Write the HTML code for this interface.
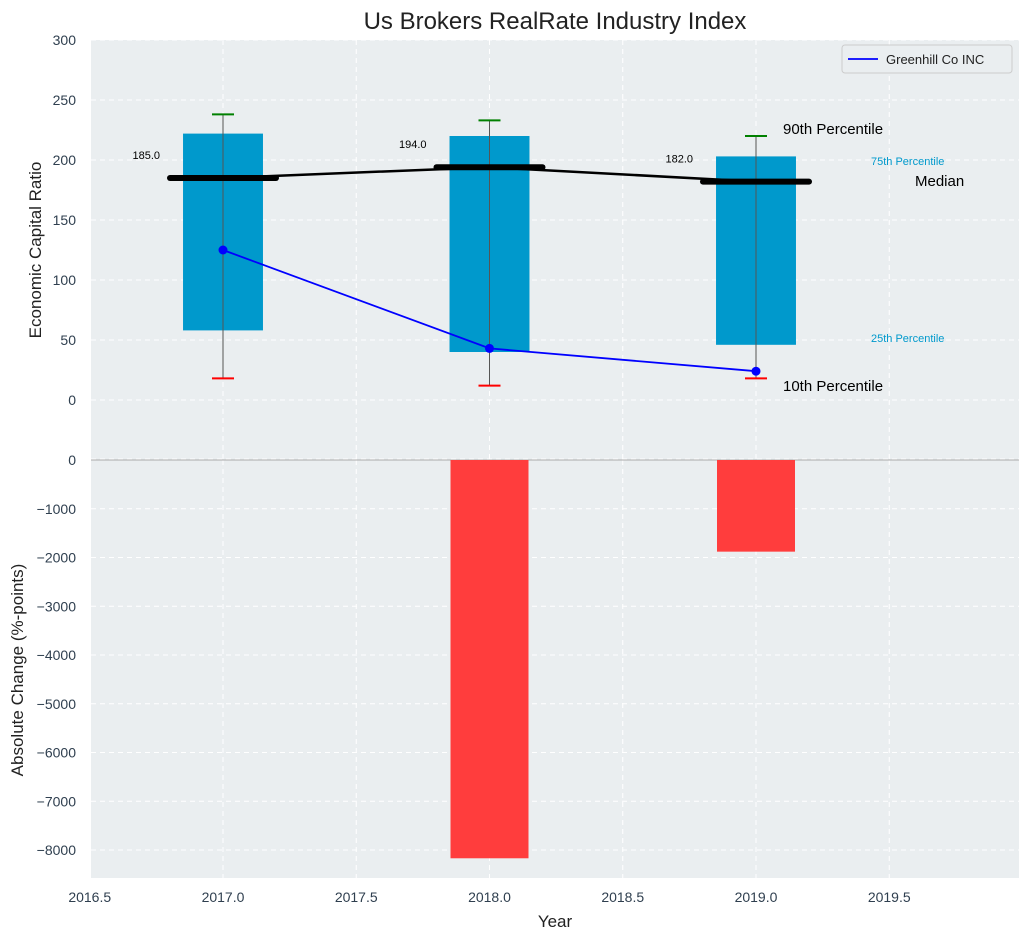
<!DOCTYPE html>
<html><head><meta charset="utf-8"><style>
body{margin:0;background:#fff;font-family:"Liberation Sans",sans-serif}
svg text{font-family:"Liberation Sans",sans-serif}
</style></head><body>
<svg id="c" width="1029" height="940" xmlns="http://www.w3.org/2000/svg"></svg>
<script>
const years=[2017,2018,2019];
const p10=[18,12,18];
const p25=[58,40,46];
const median=[185,194,182];
const p75=[222,220,203];
const p90=[238,233,220];
const company=[125,43,24];
const absChange=[0,-8170,-1880];
const xTicks=[2016.5,2017,2017.5,2018,2018.5,2019,2019.5];
const topTicks=[0,50,100,150,200,250,300];
const botTicks=[0,-1000,-2000,-3000,-4000,-5000,-6000,-7000,-8000];

const NS="http://www.w3.org/2000/svg";
const svg=document.getElementById('c');
const L=91,R=1019,T1=40,B1=460,T2=460,B2=878;
const x=v=>223+(v-2017)*266.5;
const yT=v=>400-v*1.2;
const yB=v=>460+(-v)*0.04875;
function el(t,a,name,parent){const e=document.createElementNS(NS,t);for(const k in a)e.setAttribute(k,a[k]);


(parent||svg).appendChild(e);return e;}
function txt(s,a,name){const e=el('text',a,name);e.textContent=s;return e;}

el('rect',{x:L,y:T1,width:R-L,height:B1-T1,fill:'#eaeef0'},'top-plot-area');
el('rect',{x:L,y:T2,width:R-L,height:B2-T2,fill:'#eaeef0'},'bottom-plot-area');
xTicks.forEach(v=>{
  el('line',{x1:x(v),x2:x(v),y1:T1,y2:B1,stroke:'#fff','stroke-dasharray':'5,4'},'top-x-grid');
  el('line',{x1:x(v),x2:x(v),y1:T2,y2:B2,stroke:'#fff','stroke-dasharray':'5,4'},'bottom-x-grid');
  txt(v.toFixed(1),{x:x(v),y:902,'text-anchor':'middle','font-size':14,fill:'#2f3f4f'},'x-tick-label');
});
topTicks.forEach(v=>{
  el('line',{x1:L,x2:R,y1:yT(v),y2:yT(v),stroke:'#fff','stroke-dasharray':'5,4'},'top-y-grid');
  txt(v,{x:76,y:yT(v)+5,'text-anchor':'end','font-size':14,fill:'#2f3f4f'},'top-y-tick-label');
});
el('line',{x1:L,x2:R,y1:yT(-50)-1,y2:yT(-50)-1,stroke:'#fff','stroke-dasharray':'5,4'},'top-y-grid');
botTicks.forEach(v=>{
  el('line',{x1:L,x2:R,y1:yB(v),y2:yB(v),stroke:'#fff','stroke-dasharray':'5,4'},'bottom-y-grid');
  txt(v===0?'0':'\u2212'+(-v),{x:76,y:yB(v)+5,'text-anchor':'end','font-size':14,fill:'#2f3f4f'},'bottom-y-tick-label');
});
el('line',{x1:L,x2:R,y1:460,y2:460,stroke:'#aaa','stroke-width':1},'zero-line');

const bw=0.3*266.5;
years.forEach((yr,i)=>{
  const cx=x(yr);
  el('rect',{x:cx-bw/2,y:yT(p75[i]),width:bw,height:yT(p25[i])-yT(p75[i]),fill:'#0099cc'},'iqr-bar');
  el('line',{x1:cx,x2:cx,y1:yT(p90[i]),y2:yT(p10[i]),stroke:'#555','stroke-width':1},'whisker');
  el('line',{x1:cx-11,x2:cx+11,y1:yT(p90[i]),y2:yT(p90[i]),stroke:'green','stroke-width':2},'p90-cap');
  el('line',{x1:cx-11,x2:cx+11,y1:yT(p10[i]),y2:yT(p10[i]),stroke:'red','stroke-width':2},'p10-cap');
  el('line',{x1:cx-53,x2:cx+53,y1:yT(median[i]),y2:yT(median[i]),stroke:'#000','stroke-width':6,'stroke-linecap':'round'},'median-bar');
  txt(median[i].toFixed(1),{x:cx-63,y:yT(median[i])-19,'text-anchor':'end','font-size':11,fill:'#000'},'median-label');
  if(absChange[i]!==0) el('rect',{x:cx-39,y:yB(0),width:78,height:yB(absChange[i])-yB(0),fill:'#ff3d3d'},'abs-change-bar');
});
el('polyline',{points:years.map((yr,i)=>x(yr)+','+yT(median[i])).join(' '),fill:'none',stroke:'#000','stroke-width':2.5},'median-line');
el('polyline',{points:years.map((yr,i)=>x(yr)+','+yT(company[i])).join(' '),fill:'none',stroke:'#0000ff','stroke-width':1.8},'company-line');
years.forEach((yr,i)=>el('circle',{cx:x(yr),cy:yT(company[i]),r:4.5,fill:'#0000ff'},'company-point'));

txt('90th Percentile',{x:783,y:134,'font-size':15,fill:'#000'},'p90-annotation');
txt('75th Percentile',{x:871,y:165,'font-size':11,fill:'#0099cc'},'p75-annotation');
txt('Median',{x:915,y:186,'font-size':15,fill:'#000'},'median-annotation');
txt('25th Percentile',{x:871,y:342,'font-size':11,fill:'#0099cc'},'p25-annotation');
txt('10th Percentile',{x:783,y:391,'font-size':15,fill:'#000'},'p10-annotation');

const lg=el('g',{},'legend');
el('rect',{x:842,y:45,width:170,height:28,fill:'#eaeef0',stroke:'#ccc',rx:3},'legend-box',lg);
el('line',{x1:848,x2:878,y1:59,y2:59,stroke:'#0000ff','stroke-width':1.8},'legend-line',lg);
const lt=el('text',{x:886,y:64,'font-size':13,fill:'#222'},'legend-label',lg);lt.textContent='Greenhill Co INC';

txt('Us Brokers RealRate Industry Index',{x:555,y:29,'text-anchor':'middle','font-size':24,fill:'#222'},'chart-title');
txt('Year',{x:555,y:927,'text-anchor':'middle','font-size':17,fill:'#222'},'x-axis-title');
txt('Economic Capital Ratio',{x:0,y:0,transform:'translate(41,250) rotate(-90)','text-anchor':'middle','font-size':17,fill:'#222'},'top-y-axis-title');
txt('Absolute Change (%-points)',{x:0,y:0,transform:'translate(23,670) rotate(-90)','text-anchor':'middle','font-size':17,fill:'#222'},'bottom-y-axis-title');
</script>
</body></html>
